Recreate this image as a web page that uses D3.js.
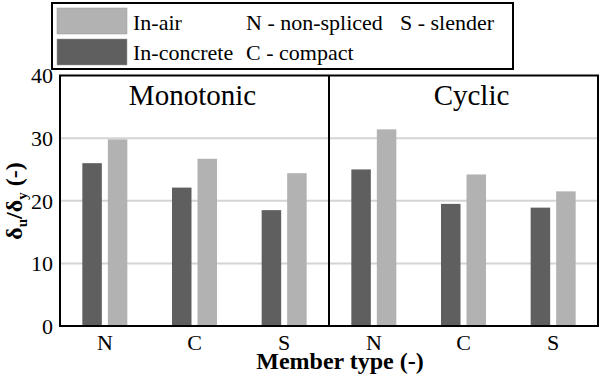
<!DOCTYPE html>
<html><head><meta charset="utf-8">
<script src="https://cdn.jsdelivr.net/npm/d3@7"></script>
<style>body{margin:0;background:#fff}svg{display:block}</style>
</head><body><svg id="c" width="602" height="383"></svg>
<script>
const panels = ["Monotonic", "Cyclic"];
const categories = ["N", "C", "S"];
const series = ["In-concrete", "In-air"];
const monoInConcrete = [26.0, 22.1, 18.5];
const monoInAir = [29.8, 26.7, 24.4];
const cycInConcrete = [25.0, 19.5, 18.9];
const cycInAir = [31.4, 24.2, 21.5];
const yTicks = [0, 10, 20, 30, 40];
const legendNotes = [["N - non-spliced", "S - slender"], ["C - compact"]];

const FONT = '"Liberation Serif"';
const values = {
  "Monotonic": {"In-concrete": monoInConcrete, "In-air": monoInAir},
  "Cyclic": {"In-concrete": cycInConcrete, "In-air": cycInAir}
};
const colors = {"In-concrete": "#5f5f5f", "In-air": "#b2b2b2"};

const svg = d3.select("#c");
const L = 60, R = 598, T = 75.5, B = 326;
const y = d3.scaleLinear().domain([0, 40]).range([B, T]);
const xp = d3.scaleBand().domain(panels).range([L, R]);
const x0 = d3.scaleBand().domain(categories).range([0, xp.bandwidth()]);
const x1 = d3.scaleBand().domain(series).range([0, x0.bandwidth()]).paddingInner(0.235).paddingOuter(0.876);

function txt(sel) { return sel.style("font-family", FONT).attr("fill", "#000"); }

// gridlines
svg.append("g").selectAll("line").data(yTicks.filter(d => d > 0 && d < 40)).join("line")
  .attr("x1", L).attr("x2", R).attr("y1", d => y(d)).attr("y2", d => y(d))
  .attr("stroke", "#d4d4d4").attr("stroke-width", 2);

// bars
panels.forEach(p => {
  const g = svg.append("g").attr("transform", `translate(${xp(p)},0)`);
  series.forEach(s => {
    g.selectAll(null).data(values[p][s]).join("rect")
      .attr("x", (d, i) => x0(categories[i]) + x1(s))
      .attr("width", x1.bandwidth())
      .attr("y", d => y(d)).attr("height", d => y(0) - y(d))
      .attr("fill", colors[s]);
  });
  txt(g.append("text").attr("x", p === "Cyclic" ? xp.bandwidth() / 2 + 8 : xp.bandwidth() / 2 - 2)
    .attr("y", 105).attr("text-anchor", "middle").attr("font-size", 29).text(p));
  const ax = d3.axisBottom(x0).tickSize(0).tickPadding(0);
  const ag = g.append("g").attr("transform", `translate(0,${B})`).call(ax).attr("font-family", null);
  ag.select(".domain").remove();
  txt(ag.selectAll("text").attr("y", 24).attr("dy", 0).attr("font-size", 22));
});

// frame
svg.append("rect").attr("x", L).attr("y", T).attr("width", R - L).attr("height", B - T)
  .attr("fill", "none").attr("stroke", "#000").attr("stroke-width", 2);
svg.append("line").attr("x1", xp("Cyclic")).attr("x2", xp("Cyclic")).attr("y1", T).attr("y2", B)
  .attr("stroke", "#000").attr("stroke-width", 2);

// y axis
const yax = d3.axisLeft(y).tickValues(yTicks).tickSize(0).tickPadding(6);
const yg = svg.append("g").attr("transform", `translate(${L - 1},0)`).call(yax).attr("font-family", null);
yg.select(".domain").remove();
txt(yg.selectAll("text").attr("font-size", 22).attr("dy", "0.34em"));

// y label
const yl = txt(svg.append("text").attr("transform", "translate(22,201) rotate(-90)")
  .attr("text-anchor", "middle").attr("font-size", 24).attr("font-weight", "bold"));
yl.append("tspan").text("δ");
yl.append("tspan").text("u").attr("font-size", 15).attr("dy", 5);
yl.append("tspan").text("/δ").attr("dy", -5);
yl.append("tspan").text("y").attr("font-size", 15).attr("dy", 5);
yl.append("tspan").text(" (-)").attr("dy", -5);

// x label
txt(svg.append("text").attr("x", 340).attr("y", 369).attr("text-anchor", "middle")
  .attr("font-size", 24).attr("font-weight", "bold").text("Member type (-)"));

// legend
svg.append("rect").attr("x", 52).attr("y", 3).attr("width", 461).attr("height", 66)
  .attr("fill", "#fff").attr("stroke", "#000").attr("stroke-width", 2);
const legItems = ["In-air", "In-concrete"];
legItems.forEach((s, i) => {
  svg.append("rect").attr("x", 57).attr("y", 8 + i * 31).attr("width", 70).attr("height", 26)
    .attr("fill", colors[s]).attr("stroke", "#999").attr("stroke-width", 0.5);
  txt(svg.append("text").attr("x", 133).attr("y", 30 + i * 30).attr("font-size", 22).text(s));
});
legendNotes.forEach((row, i) => {
  row.forEach((t, j) => {
    txt(svg.append("text").attr("x", j === 0 ? 246 : 400).attr("y", 30 + i * 30).attr("font-size", 22).text(t));
  });
});
</script></body></html>
